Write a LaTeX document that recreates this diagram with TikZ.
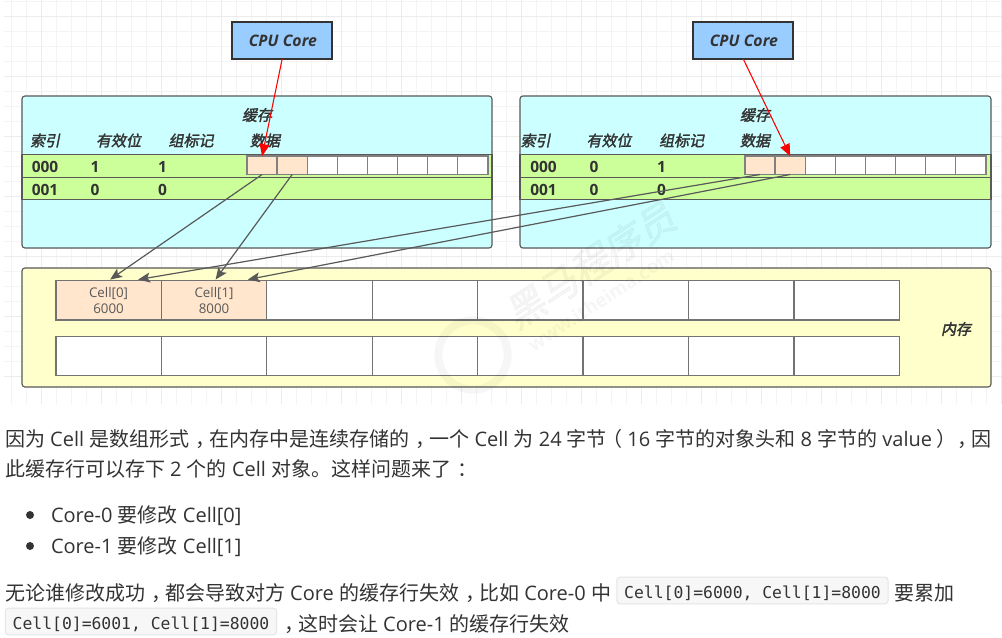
\documentclass[tikz,border=0pt]{standalone}
\usepackage{fontspec}
\usetikzlibrary{arrows.meta,calc}
\setmainfont{Open Sans}
\setmonofont{DejaVu Sans Mono}
\newfontfamily\cjk{Noto Sans CJK SC}
\newfontfamily\cjkbi[FakeSlant=0.2,FakeBold=2]{Noto Sans CJK SC}
\newcommand{\zh}[1]{{\cjk #1}}
\newcommand{\cm}{{\cjk\hspace{.3em}，\hspace{-.3em}}}
\newcommand{\cn}{{\cjk\hspace{.3em}：\hspace{-.3em}}}
\newcommand{\lp}{{\cjk\hspace{-.2em}（\hspace{.22em}}}
\newcommand{\rp}{{\cjk\hspace{.2em}）\hspace{-.25em}}}
\definecolor{ink}{HTML}{333333}
\definecolor{gridc}{HTML}{F4F4F4}
\definecolor{gridm}{HTML}{ECECEC}
\tikzset{
  x=0.75pt,y=-0.75pt,
  every node/.style={inner sep=0,outer sep=0,text=ink},
  panel/.style={draw=black!65,line width=0.85pt,rounded corners=2.2pt},
  cachebox/.style={panel,fill={rgb,255:red,204;green,255;blue,255}},
  membox/.style={panel,fill={rgb,255:red,255;green,255;blue,204}},
  rowbar/.style={draw=black!65,line width=0.85pt,fill={rgb,255:red,204;green,255;blue,153}},
  cpu/.style={draw=ink,line width=1.5pt,fill={rgb,255:red,153;green,204;blue,255},minimum width=75pt,minimum height=27.5pt,font=\fontsize{11.9}{13}\selectfont\itshape\bfseries},
  cl/.style={draw=black!50,line width=1pt,fill=white,minimum width=22.6pt,minimum height=13.8pt},
  clhot/.style={cl,fill={rgb,255:red,255;green,230;blue,204}},
  mc/.style={draw=black!55,line width=1pt,fill=white,minimum width=79.1pt,minimum height=29.6pt,align=center,font=\fontsize{10}{11.7}\selectfont,text=black!65},
  mchot/.style={mc,fill={rgb,255:red,255;green,230;blue,204}},
  head/.style={font=\fontsize{11.25}{13}\selectfont\cjkbi},
  val/.style={font=\fontsize{11.6}{13}\selectfont\bfseries},
  feed/.style={-{Stealth[length=9pt,width=7.5pt,inset=2pt]},draw=black!65,line width=0.9pt},
  hit/.style={-{Triangle[length=9pt,width=7.5pt]},draw=red,line width=0.8pt},
  body/.style={anchor=west,font=\fontsize{15}{18}\selectfont},
  codebox/.style={draw=black!10,fill=black!3,line width=0.75pt,rounded corners=2.5pt},
  codetx/.style={font=\ttfamily\fontsize{12.3}{15}\selectfont},
}
\begin{document}
\begin{tikzpicture}
\useasboundingbox (0,0) rectangle (1002,638);
\fill[white] (0,0) rectangle (1002,638);
% background grid
\foreach \i in {0,...,66}{\draw[gridc,line width=0.7pt] ({11.7+15*\i},0) -- ({11.7+15*\i},404);}
\foreach \j in {0,...,25}{\draw[gridc,line width=0.7pt] (4,{1.7+15*\j}) -- (1002,{1.7+15*\j});}
\foreach \i in {0,...,16}{\draw[gridm,line width=0.8pt] ({41.7+60*\i},0) -- ({41.7+60*\i},404);}
\foreach \j in {0,...,6}{\draw[gridm,line width=0.8pt] (4,{16.7+60*\j}) -- (1002,{16.7+60*\j});}
% cpu
\node[cpu] (cpuA) at (282.2,40.5) {\hspace{1pt}CPU Core};
\node[cpu] (cpuB) at (743.2,40.5) {\hspace{1pt}CPU Core};
% cache left
\draw[cachebox] (22,96) rectangle (492,248);
\node[rowbar,minimum width=352.5pt,minimum height=16.7pt] (rA0) at (257,166) {};
\node[rowbar,minimum width=352.5pt,minimum height=16.7pt] (rA1) at (257,188.4) {};
% cache right
\draw[cachebox] (520,96) rectangle (991,248);
\node[rowbar,minimum width=353.2pt,minimum height=16.7pt] (rB0) at (755.5,166) {};
\node[rowbar,minimum width=353.2pt,minimum height=16.7pt] (rB1) at (755.5,188.4) {};
% cache cells
\foreach \n in {0,...,7}{
  \pgfmathsetmacro{\xa}{262.1+30.1*\n}
  \pgfmathsetmacro{\xb}{760.1+30.1*\n}
  \ifnum\n<2
    \node[clhot] (a\n) at (\xa,165.3) {};
    \node[clhot] (b\n) at (\xb,165.3) {};
  \else
    \node[cl] (a\n) at (\xa,165.3) {};
    \node[cl] (b\n) at (\xb,165.3) {};
  \fi
}
% cache texts
\node[head] (hA) at (257,115) {缓存};
\node[head] (iA) at (45,140.5) {索引};
\node[head] (vA) at (118.5,140.5) {有效位};
\node[head] (tA) at (191,140.5) {组标记};
\node[head] (dA) at (265,140.5) {数据};
\node[head] (hB) at (755,115) {缓存};
\node[head] (iB) at (535.5,140.5) {索引};
\node[head] (vB) at (609,140.5) {有效位};
\node[head] (tB) at (681.5,140.5) {组标记};
\node[head] (dB) at (755,140.5) {数据};
\node[val] (r1) at (45,167) {000};
\node[val] (r2) at (95,167) {1};
\node[val] (r3) at (162.5,167) {1};
\node[val] (r4) at (45,189.5) {001};
\node[val] (r5) at (95,189.5) {0};
\node[val] (r6) at (162.5,189.5) {0};
\node[val] (s1) at (543.5,167) {000};
\node[val] (s2) at (594,167) {0};
\node[val] (s3) at (661.5,167) {1};
\node[val] (s4) at (543.5,189.5) {001};
\node[val] (s5) at (594,189.5) {0};
\node[val] (s6) at (661.5,189.5) {0};
% memory
\draw[membox] (22,268) rectangle (991,387);
\node[mchot] (m0) at (108.6,300.3) {Cell[0]\\6000};
\node[mchot] (m1) at (214.05,300.3) {Cell[1]\\8000};
\foreach \n in {2,...,7}{\node[mc] (m\n) at ({108.6+105.45*\n},300.3) {};}
\foreach \n in {0,...,7}{\node[mc] (q\n) at ({108.6+105.45*\n},356) {};}
\node[head] (memL) at (956,329) {内存};
% watermark
\begin{scope}[opacity=0.035]
\node[circle,draw=black,line width=6pt,minimum size=52pt] (wmlogo) at (473,355) {};
\node[rotate=33,text=black,font=\fontsize{29}{32}\selectfont\cjkbi] (wmA) at (590,265) {黑马程序员};
\node[rotate=33,text=black,font=\fontsize{14}{16}\selectfont\bfseries] (wmB) at (601,300) {www.itheima.com};
\end{scope}
% connectors
\draw[feed] (a0.south) -- ($(m0.north)+(1.5,-1)$);
\draw[feed] (a1.south) -- ($(m1.north)+(1.5,-1)$);
\draw[feed] (b0.south) -- ($(m0.north west)!0.78!(m0.north east)+(0,-1)$);
\draw[feed] (b1.south) -- ($(m1.north west)!0.82!(m1.north east)+(0,-1)$);
\draw[hit] (cpuA.south) -- (a0.north);
\draw[hit] (cpuB.south) -- (b1.north);
% body text
\node[body] (p1) at (5,439) {\zh{因为} Cell \zh{是数组形式}\cm\zh{在内存中是连续存储的}\cm\zh{一个} Cell \zh{为} 24 \zh{字节}\lp 16 \zh{字节的对象头和} 8 \zh{字节的} value\rp\cm\zh{因}};
\node[body] (p2) at (5,469) {\zh{此缓存行可以存下} 2 \zh{个的} Cell \zh{对象。这样问题来了}\cn};
\fill[ink] (30,515) circle (4);
\fill[ink] (30,546) circle (4);
\node[body] (li1) at (51,516) {Core-0 \zh{要修改} Cell[0]};
\node[body] (li2) at (51,547) {Core-1 \zh{要修改} Cell[1]};
\node[body] (p3) at (5,593) {\zh{无论谁修改成功}\cm\zh{都会导致对方} Core \zh{的缓存行失效}\cm\zh{比如} Core-0 \zh{中}};
\node[codebox,minimum width=203.5pt,minimum height=20pt] (c1) at (752.5,590.5) {};
\node[codetx] (c1t) at (752.5,593.5) {Cell[0]=6000, Cell[1]=8000};
\node[body] (p4) at (894,593) {\zh{要累加}};
\node[codebox,minimum width=203.5pt,minimum height=20pt] (c2) at (141,621.5) {};
\node[codetx] (c2t) at (141,624.5) {Cell[0]=6001, Cell[1]=8000};
\node[body] (p5) at (278,624) {\cm\zh{这时会让} Core-1 \zh{的缓存行失效}};
\end{tikzpicture}
\end{document}
